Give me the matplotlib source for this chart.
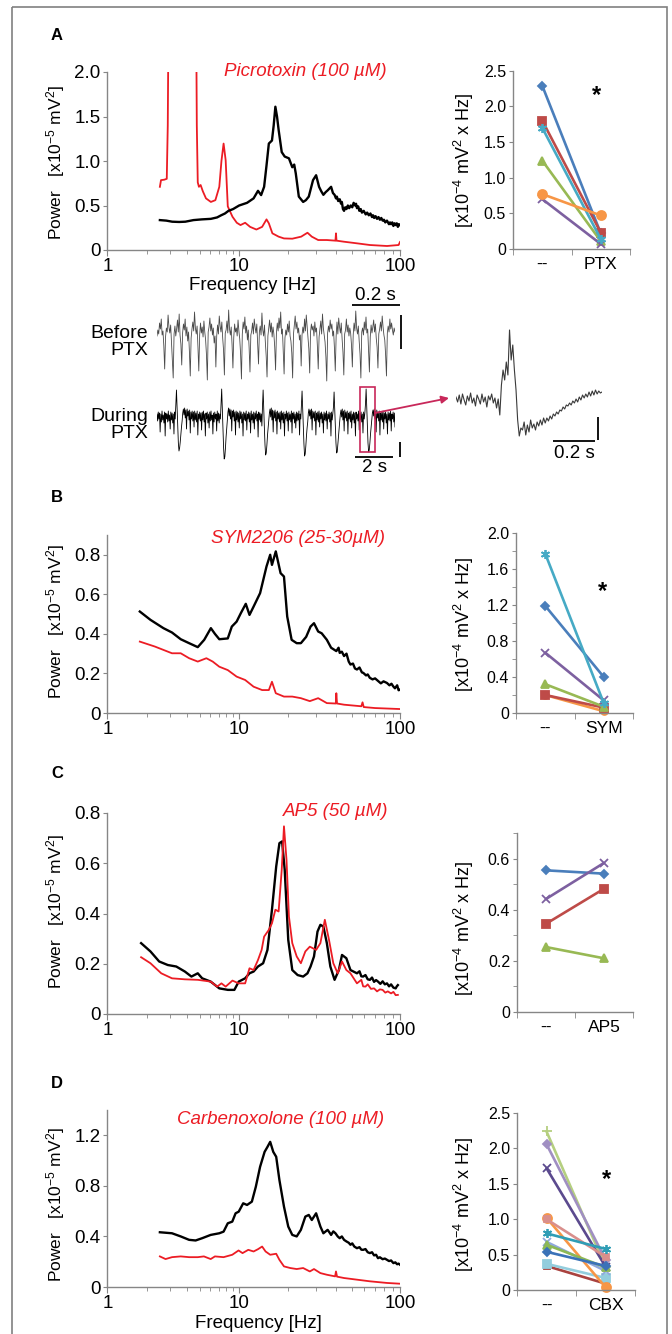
import numpy as np
import matplotlib
matplotlib.use("Agg")
import matplotlib.pyplot as plt
from matplotlib.ticker import FixedLocator, FixedFormatter, NullFormatter
from matplotlib.patches import Rectangle

plt.rcParams['font.family'] = ['Liberation Sans', 'DejaVu Sans']
plt.rcParams['mathtext.fontset'] = 'custom'
plt.rcParams['mathtext.rm'] = 'Liberation Sans'
plt.rcParams['mathtext.it'] = 'Liberation Sans:italic'
plt.rcParams['mathtext.bf'] = 'Liberation Sans:bold'

# ---------------- DATA ----------------
# Panel A spectra (frequency Hz, power x1e-5 mV^2)
fA_ctrl = [2.5, 2.8, 3.1, 3.5, 3.9, 4.5, 5.2, 6.1, 6.8, 7.3, 7.8, 8.3, 9.0, 10.0, 11.2,
           12.3, 13.1, 13.7, 14.3, 14.8, 15.3, 16.0, 16.4, 16.8, 17.2, 17.6, 18.4, 19.2, 20.4, 21.4,
           22.0, 22.5, 23.5, 25.0, 26.0, 27.1, 28.8, 30.1, 31.4, 32.4, 33.4, 34.5, 35.5, 37.3, 38.3,
           39.2, 40.0, 40.5, 41.3, 42.2, 43.0, 43.5, 44.2, 44.9, 45.7, 46.5, 47.4, 48.3, 49.4, 50.5,
           51.5, 52.6, 53.3, 54.0, 55.0, 55.9, 57.0, 58.0, 59.5, 61.2, 62.5, 64.0, 65.5, 67.0, 68.0,
           69.1, 70.5, 72.0, 73.5, 75.0, 76.5, 78.0, 79.5, 81.0, 83.0, 85.4, 86.7, 88.0, 89.5, 91.0,
           92.5, 94.0, 95.5, 97.0, 98.5, 100.0]
pA_ctrl = [0.336, 0.33, 0.318, 0.315, 0.318, 0.336, 0.344, 0.35, 0.366, 0.39, 0.41, 0.44, 0.46, 0.50, 0.53,
           0.58, 0.665, 0.617, 0.71, 0.95, 1.196, 1.23, 1.40, 1.61, 1.50, 1.35, 1.10, 1.05, 1.03, 0.93,
           0.96, 0.86, 0.60, 0.54, 0.56, 0.60, 0.785, 0.84, 0.71, 0.66, 0.62, 0.65, 0.67, 0.71, 0.64,
           0.62, 0.58, 0.60, 0.55, 0.57, 0.52, 0.54, 0.46, 0.44, 0.48, 0.46, 0.50, 0.47, 0.50, 0.48,
           0.53, 0.50, 0.52, 0.47, 0.49, 0.44, 0.46, 0.42, 0.44, 0.40, 0.42, 0.39, 0.41, 0.37, 0.39,
           0.36, 0.38, 0.35, 0.37, 0.34, 0.36, 0.33, 0.34, 0.31, 0.33, 0.29, 0.31, 0.29, 0.31, 0.27,
           0.30, 0.28, 0.30, 0.26, 0.29, 0.28]
fA_drug = [2.5, 2.55, 2.7, 2.82, 2.87, 2.92, 4.7, 4.77, 4.85, 4.95, 5.1, 5.3, 5.6, 6.1, 6.6,
           7.07, 7.34, 7.62, 7.9, 8.2, 8.9, 9.6, 10.2, 10.9, 11.7, 12.8, 13.9, 14.8, 15.3, 16.1,
           17.6, 19.0, 21.4, 24.3, 26.6, 28.3, 31.0, 35.1, 39.7, 40.0, 40.3, 44.9, 54.0, 65.0, 83.0,
           98.0, 100.0]
pA_drug = [0.71, 0.785, 0.79, 0.80, 1.40, 3.0, 3.0, 1.40, 0.76, 0.71, 0.73, 0.66, 0.58, 0.54, 0.56,
           0.71, 1.0, 1.196, 1.01, 0.49, 0.374, 0.306, 0.28, 0.306, 0.26, 0.23, 0.26, 0.344, 0.30, 0.187,
           0.15, 0.13, 0.127, 0.15, 0.194, 0.15, 0.112, 0.112, 0.105, 0.187, 0.105, 0.093, 0.075, 0.056, 0.045,
           0.056, 0.09]

# Panel B spectra
fB_ctrl = [1.76, 2.12, 2.66, 3.09, 3.6, 4.17, 4.85, 5.43, 6.1, 6.55, 7.07, 8.2, 8.8, 9.57, 10.25,
           11.0, 11.6, 12.3, 13.5, 14.8, 15.6, 16.0, 16.9, 18.1, 19.0, 19.9, 21.2, 22.8, 24.2, 26.1,
           27.8, 29.2, 31.0, 32.6, 35.1, 37.3, 40.2, 41.5, 42.2, 43.5, 44.9, 46.5, 48.0, 49.2, 51.0,
           52.5, 54.0, 56.0, 58.0, 59.1, 61.5, 63.0, 64.9, 67.5, 70.0, 73.3, 76.0, 79.0, 82.9, 86.0,
           88.5, 90.7, 93.0, 96.0, 98.0, 100.0]
pB_ctrl = [0.513, 0.471, 0.429, 0.407, 0.373, 0.353, 0.333, 0.37, 0.429, 0.40, 0.373, 0.377, 0.437, 0.462, 0.505,
           0.552, 0.496, 0.538, 0.606, 0.741, 0.80, 0.749, 0.817, 0.707, 0.69, 0.488, 0.37, 0.353, 0.353, 0.385,
           0.437, 0.454, 0.412, 0.403, 0.37, 0.33, 0.313, 0.33, 0.304, 0.31, 0.288, 0.30, 0.26, 0.245, 0.25,
           0.225, 0.22, 0.23, 0.205, 0.203, 0.19, 0.195, 0.178, 0.17, 0.175, 0.161, 0.15, 0.16, 0.152, 0.14,
           0.148, 0.135, 0.125, 0.14, 0.115, 0.118]
fB_drug = [1.76, 2.29, 3.09, 3.6, 4.17, 4.85, 5.64, 6.3, 7.07, 8.2, 9.57, 10.9, 12.3, 13.9, 15.3,
           16.0, 16.9, 19.0, 21.4, 24.2, 27.5, 31.0, 35.1, 39.9, 40.2, 40.6, 44.9, 57.5, 58.5, 59.5,
           70.0, 100.0]
pB_drug = [0.361, 0.336, 0.302, 0.302, 0.277, 0.26, 0.277, 0.26, 0.234, 0.217, 0.184, 0.167, 0.133, 0.116, 0.116,
           0.158, 0.10, 0.083, 0.083, 0.075, 0.06, 0.075, 0.05, 0.048, 0.10, 0.048, 0.042, 0.034, 0.054, 0.03,
           0.025, 0.02]

# Panel C spectra
fC_ctrl = [1.8, 2.12, 2.47, 2.87, 3.33, 3.87, 4.34, 4.85, 5.24, 6.08, 7.07, 8.22, 9.2, 9.93, 10.9,
           11.6, 12.3, 13.1, 14.1, 15.0, 16.0, 17.0, 17.8, 18.5, 19.2, 20.2, 21.4, 23.1, 25.0, 26.6,
           27.8, 29.2, 30.7, 32.0, 33.4, 35.1, 36.9, 39.2, 41.7, 43.6, 46.4, 49.2, 54.0, 56.0, 57.5,
           59.0, 61.0, 63.0, 65.0, 67.0, 69.0, 71.0, 73.0, 75.5, 78.0, 80.5, 83.0, 85.5, 88.0, 91.0,
           94.0, 95.5, 97.0]
pC_ctrl = [0.282, 0.249, 0.209, 0.195, 0.189, 0.169, 0.149, 0.162, 0.142, 0.129, 0.102, 0.096, 0.096, 0.129, 0.142,
           0.162, 0.169, 0.189, 0.202, 0.255, 0.415, 0.587, 0.68, 0.687, 0.574, 0.295, 0.175, 0.155, 0.149, 0.162,
           0.189, 0.229, 0.328, 0.355, 0.348, 0.282, 0.189, 0.136, 0.175, 0.235, 0.222, 0.175, 0.162, 0.17, 0.15,
           0.149, 0.155, 0.138, 0.136, 0.145, 0.128, 0.135, 0.129, 0.12, 0.13, 0.118, 0.122, 0.11, 0.118, 0.105,
           0.102, 0.11, 0.115]
fC_drug = [1.8, 2.12, 2.56, 3.09, 3.87, 4.85, 6.08, 6.8, 7.34, 7.9, 8.9, 9.9, 10.9, 11.6, 12.3,
           13.1, 13.8, 14.3, 15.3, 16.0, 16.8, 17.6, 18.4, 19.0, 19.7, 20.4, 21.4, 22.8, 24.2, 25.8,
           27.5, 30.1, 32.0, 34.1, 36.2, 38.5, 41.0, 43.6, 46.4, 49.2, 54.0, 57.5, 59.0, 61.0, 63.0,
           66.0, 69.0, 72.0, 75.0, 78.0, 81.0, 84.0, 88.0, 91.0, 94.0, 97.0]
pC_drug = [0.226, 0.202, 0.162, 0.142, 0.138, 0.136, 0.129, 0.109, 0.122, 0.109, 0.133, 0.122, 0.122, 0.182, 0.175,
           0.215, 0.255, 0.308, 0.335, 0.361, 0.415, 0.408, 0.574, 0.747, 0.614, 0.388, 0.282, 0.229, 0.202, 0.249,
           0.268, 0.255, 0.282, 0.375, 0.295, 0.202, 0.162, 0.209, 0.175, 0.162, 0.122, 0.136, 0.11, 0.109, 0.118,
           0.10, 0.102, 0.09, 0.098, 0.096, 0.085, 0.09, 0.082, 0.088, 0.075, 0.076]

# Panel D spectra
fD_ctrl = [2.5, 3.09, 3.6, 4.17, 4.67, 5.24, 6.08, 7.07, 7.62, 8.2, 8.87, 9.4, 9.93, 10.6, 11.2,
           12.0, 12.7, 13.5, 14.4, 15.0, 15.6, 16.3, 17.0, 17.8, 19.0, 20.2, 21.4, 22.8, 24.2, 25.8,
           27.1, 28.3, 30.1, 32.0, 33.4, 35.5, 36.5, 37.3, 38.5, 39.7, 41.0, 42.2, 43.5, 44.9, 46.5,
           48.0, 49.2, 50.5, 52.0, 54.0, 56.0, 57.5, 59.0, 61.0, 63.0, 65.0, 67.0, 69.0, 71.0, 73.0,
           75.0, 78.0, 80.5, 83.0, 85.5, 88.0, 91.0, 93.5, 96.0, 98.0, 100.0]
pD_ctrl = [0.433, 0.425, 0.40, 0.373, 0.368, 0.386, 0.412, 0.425, 0.438, 0.504, 0.517, 0.583, 0.596, 0.662, 0.649,
           0.675, 0.793, 0.951, 1.069, 1.108, 1.148, 1.069, 1.03, 0.846, 0.636, 0.478, 0.412, 0.40, 0.452, 0.557,
           0.57, 0.53, 0.583, 0.478, 0.425, 0.452, 0.43, 0.412, 0.44, 0.425, 0.40, 0.386, 0.40, 0.373, 0.36,
           0.35, 0.334, 0.345, 0.32, 0.307, 0.315, 0.295, 0.294, 0.30, 0.275, 0.268, 0.275, 0.25, 0.255, 0.228,
           0.235, 0.22, 0.225, 0.215, 0.205, 0.21, 0.189, 0.195, 0.18, 0.185, 0.176]
fD_drug = [2.5, 2.76, 3.09, 3.6, 4.17, 4.85, 5.4, 6.08, 6.55, 7.62, 8.87, 9.9, 10.5, 11.4, 12.3,
           13.1, 13.9, 14.6, 15.6, 17.0, 17.8, 19.0, 20.8, 22.8, 25.0, 27.5, 29.2, 32.0, 35.1, 39.5,
           40.0, 40.6, 44.9, 54.0, 65.0, 83.0, 100.0]
pD_drug = [0.242, 0.221, 0.236, 0.242, 0.236, 0.236, 0.242, 0.221, 0.242, 0.236, 0.255, 0.289, 0.268, 0.294, 0.281,
           0.299, 0.32, 0.281, 0.255, 0.263, 0.215, 0.163, 0.15, 0.142, 0.15, 0.123, 0.142, 0.11, 0.097, 0.084,
           0.123, 0.082, 0.071, 0.058, 0.045, 0.032, 0.026]

# Field potential traces (arbitrary units)
trace_before = [
    0.2, 0.8, 0.4, 1.5, 0.9, 1.9, 0.3, 0.7, -0.8, -3.1,
    0.1, 1.0, 0.6, 2.3, 1.1, 0.5, 1.3, -0.4, -1.9, -4.0,
    0.4, 1.2, 0.2, 0.9, 1.8, 0.6, 2.4, 0.3, -0.6, -2.7,
    0.5, 1.4, 0.8, 1.9, 0.2, 1.1, -0.3, 0.6, -1.4, -3.8,
    0.0, 0.9, 1.6, 0.7, 2.6, 1.0, 0.4, 1.2, -0.9, -3.3,
    0.3, 1.5, 0.5, 1.1, 0.1, 1.7, 0.6, -0.2, -1.7, -4.2,
    0.6, 1.1, 2.0, 0.7, 1.4, 0.3, 1.0, -0.5, 0.2, -2.9,
    0.2, 1.3, 0.4, 2.2, 1.2, 0.6, 1.6, 0.0, -1.2, -3.7,
    0.5, 0.8, 1.7, 0.5, 2.8, 0.9, 0.3, 1.1, -0.7, -3.0,
    0.1, 1.4, 0.6, 1.0, 0.2, 1.8, 0.7, -0.1, -1.6, -4.1,
    0.4, 1.6, 0.9, 2.1, 0.5, 1.2, -0.2, 0.8, -1.0, -3.4,
    0.3, 0.7, 1.5, 0.4, 1.9, 1.1, 0.5, 1.4, -0.6, -2.6,
    0.6, 1.2, 0.3, 2.5, 0.8, 0.2, 1.3, -0.4, -1.8, -3.9,
    0.2, 1.0, 1.8, 0.6, 1.5, 0.1, 1.1, 0.4, -0.9, -3.2,
    0.5, 1.5, 0.7, 2.0, 1.0, 2.6, 0.4, 0.9, -1.3, -3.6,
    0.0, 0.8, 0.3, 1.4, 0.6, 1.7, 0.2, -0.3, -1.5, -4.0,
    0.4, 1.3, 2.2, 0.9, 1.6, 0.5, 1.0, -0.2, 0.3, -2.8,
    0.3, 1.1, 0.5, 1.9, 0.7, 2.3, 1.2, 0.1, -1.1, -3.5,
    0.6, 1.4, 0.8, 1.2, 0.2, 1.6, 0.6, 1.0, -0.8, -3.1,
    0.1, 0.9, 1.7, 0.4, 2.4, 1.0, 0.3, -0.4, -1.9, -4.3,
    0.5, 1.2, 0.6, 1.8, 0.9, 1.4, 0.2, 0.7, -1.0, -3.3,
    0.2, 1.6, 0.4, 2.0, 1.1, 0.5, 1.5, -0.1, -1.4, -3.7,
    0.4, 0.8, 1.9, 0.6, 1.3, 0.2, 1.0, 0.5, -0.7, -2.9,
    0.3, 1.5, 0.7, 2.7, 1.0, 0.4, 1.2, -0.3, -1.6, -4.0,
    0.6, 1.0, 0.3, 1.6, 0.8, 2.1, 0.5, 0.9, -1.2, -3.4,
    0.1, 1.3, 0.5, 1.1, 1.8, 0.6, 1.4, 0.0, -0.9, -3.0,
    0.4, 0.9, 1.6, 0.7, 2.2, 1.1, 0.3, -0.2, -1.7, -3.8,
    0.5, 1.2, 0.6, 1.9, 0.9, 1.5, 0.8, 0.3, 1.0, 0.6]
trace_during = [
    0.3, -0.4, 0.5, -0.2, 0.4, -1.5, 0.3, -0.5, 0.6, -0.3,
    0.2, -0.6, 0.5, -1.9, 0.4, -0.2, 0.3, -0.5, 0.6, -0.4,
    0.2, -1.2, 0.5, -0.3, 0.4, -0.6, 0.3, -1.7, 0.5, -0.2,
    1.2, 2.7, 0.9, -1.0, -2.6, -3.4, -3.1, -2.5, -1.7, -1.0, -0.4, 0.4,
    0.8, 0.2, 0.9, -0.1, 0.7, -1.2, 0.8, 0.1, 0.6, -0.3, 0.7, -1.6, 0.5, -0.2, 0.6, -0.4, 0.5, -1.0, 0.6, -0.3,
    0.4, -0.5, 0.6, -1.8, 0.3, -0.2, 0.5, -0.4, 0.4, -1.3, 0.5, -0.3, 0.6, -0.5, 0.3, -1.9, 0.4, -0.2, 0.5, -0.6,
    0.3, -1.1, 0.5, -0.4, 0.6, -0.3, 0.2, -1.7, 0.4, -0.5, 0.5, -0.2, 0.3, -1.4, 0.6, -0.4, 0.4, -0.6, 0.3, -0.2,
    1.3, 2.8, 0.8, -1.2, -3.0, -4.2, -4.0, -3.1, -2.0, -1.2, -0.5, 0.5,
    0.9, 0.1, 0.8, -0.2, 0.7, -1.4, 0.6, 0.0, 0.7, -0.4, 0.5, -1.8, 0.6, -0.3, 0.5, -0.5, 0.4, -1.1,
    0.6, -0.2, 0.5, -0.6, 0.3, -1.9, 0.5, -0.3, 0.4, -0.4, 0.6, -1.3, 0.3, -0.2, 0.5, -0.5, 0.4, -1.6,
    0.6, -0.3, 0.3, -0.6, 0.5, -1.2, 0.4, -0.2, 0.6, -0.4, 0.3, -2.0, 0.5, -0.3, 0.4, -0.5, 0.3, -0.9,
    1.1, 2.7, 0.7, -1.1, -2.8, -3.8, -3.6, -2.8, -1.8, -1.1, -0.4, 0.4,
    0.8, 0.0, 0.9, -0.3, 0.7, -1.5, 0.6, -0.1, 0.7, -0.4, 0.5, -1.7, 0.6, -0.2, 0.4, -0.5, 0.5, -1.2,
    0.6, -0.3, 0.4, -0.6, 0.5, -1.9, 0.3, -0.2, 0.6, -0.4, 0.4, -1.4, 0.5, -0.3, 0.3, -0.5, 0.6, -1.6,
    0.4, -0.2, 0.5, -0.6, 0.3, -1.1, 0.5, -0.4, 0.4, -0.3, 0.6, -1.8, 0.3, -0.2,
    1.2, 2.6, 0.8, -1.0, -2.7, -3.9, -3.7, -2.9, -1.9, -1.1, -0.5, 0.4,
    0.8, 0.1, 0.7, -0.2, 0.8, -1.3, 0.6, -0.1, 0.5, -0.4, 0.6, -1.8, 0.4, -0.3, 0.5, -0.5, 0.6, -1.0,
    0.4, -0.2, 0.5, -0.6, 0.3, -1.6, 0.5, -0.3, 0.4, -0.4, 0.6, -1.2, 0.3, -0.2, 0.5, -0.5, 0.4, -1.9, 0.5, -0.3, 0.4,
    1.0, 2.5, 0.7, -1.0, -2.6, -3.6, -3.5, -2.7, -1.8, -1.0, -0.4, 0.3,
    0.7, 0.0, 0.8, -0.3, 0.6, -1.4, 0.7, -0.1, 0.5, -0.4, 0.6, -1.7, 0.4, -0.2, 0.5, -0.5, 0.6, -1.1,
    0.3, -0.3, 0.5, -0.6, 0.4, -1.9, 0.5, -0.2, 0.3, -0.4, 0.6, -1.3, 0.4, -0.3, 0.5, -0.5, 0.3, -1.6, 0.5, -0.2, 0.4,
    1.3, 2.8, 0.9, -0.9, -2.6, -3.5, -3.3, -2.6, -1.7, -1.0, -0.4, 0.4,
    0.7, 0.1, 0.8, -0.2, 0.6, -1.5, 0.7, -0.1, 0.5, -0.4, 0.6, -1.8, 0.4, -0.3, 0.5, -0.5, 0.6, -1.2,
    0.4, -0.2, 0.5, -0.6, 0.3, -1.7, 0.5, -0.3, 0.4, -0.4, 0.6, -1.4, 0.3, -0.2, 0.5, -0.5, 0.4, -1.0]
trace_zoom = [
    0.3, -0.2, 0.5, -0.4, 0.6, 0.0, -0.5, 0.4, -0.1, 0.7, -0.3, 0.2, -0.6, 0.5, 0.1,
    -0.4, 0.6, -0.2, 0.3, -0.7, 0.4, 0.0, 0.6, -0.3, 0.2, -0.8, 0.1,
    -1.5, 1.5, 3.0, 2.0, 3.8, 2.5, 7.0, 4.0, 5.5, 3.0, 1.0, -2.0, -3.6, -2.8,
    -3.0, -2.2, -3.5, -2.5, -3.2, -2.0, -2.8, -2.4, -3.0, -2.2, -2.6, -2.0, -2.5, -1.8, -2.3,
    -1.8, -2.1, -1.6, -1.9, -1.4, -1.6, -1.2, -1.4, -1.0, -1.1, -0.7, -0.9, -0.5, -0.6, -0.3,
    -0.5, -0.1, -0.3, 0.1, -0.2, 0.3, 0.0, 0.5, 0.2, 0.6, 0.3, 0.8, 0.4, 0.9, 0.5,
    1.0, 0.6, 0.9, 0.7, 0.8]

# Paired data (x1e-4 mV^2 x Hz)
conds = ['--', 'PTX', 'SYM', 'AP5', 'CBX']
ptx_before = [2.29, 1.80, 1.24, 0.70, 1.70, 0.77]
ptx_after = [0.22, 0.23, 0.11, 0.07, 0.14, 0.47]
sym_before = [0.20, 1.19, 0.20, 0.32, 0.67, 1.77]
sym_after = [0.02, 0.40, 0.06, 0.07, 0.14, 0.11]
ap5_before = [0.554, 0.345, 0.254, 0.442]
ap5_after = [0.541, 0.482, 0.210, 0.583]
cbx_before = [0.34, 0.37, 2.24, 2.06, 1.72, 1.02, 1.00, 0.80, 0.68, 0.64, 0.54]
cbx_after = [0.09, 0.17, 0.33, 0.43, 0.33, 0.04, 0.47, 0.58, 0.27, 0.32, 0.34]

# ---------------- STYLE / LAYOUT ----------------
W, H = 672, 1334
fig = plt.figure(figsize=(W / 100, H / 100), dpi=100, facecolor='white')
GRAY = '#868686'
RED = '#ec1c24'
BLUE, RRED, GREEN, PURPLE, CYAN, ORANGE = '#4a7ebb', '#be4b48', '#98b954', '#7d60a0', '#46aac5', '#f79646'
AST = (6, 2, 0)


def add_ax(l, t, r, b, **kw):
    return fig.add_axes([l / W, 1 - b / H, (r - l) / W, (b - t) / H], **kw)


def ftext(x, y, s, **kw):
    kw.setdefault('ha', 'center')
    kw.setdefault('va', 'center')
    fig.text(x / W, 1 - y / H, s, **kw)


def fwd(f):
    lf = np.log10(np.clip(np.asarray(f, float), 1e-6, None))
    return np.where(lf <= 1, lf * 306.0, 306.0 + (lf - 1) * 374.0)


def inv(u):
    u = np.asarray(u, float)
    return np.where(u <= 306, 10 ** (u / 306.0), 10 ** (1 + (u - 306.0) / 374.0))


def style_spines(ax):
    for s in ['top', 'right']:
        ax.spines[s].set_visible(False)
    for s in ['left', 'bottom']:
        ax.spines[s].set_color(GRAY)
        ax.spines[s].set_linewidth(1.0)
    ax.patch.set_alpha(0)


def spec_axes(l, t, r, b, ymax, yticks, ylabels):
    ax = add_ax(l, t, r, b)
    ax.set_xscale('function', functions=(fwd, inv))
    ax.set_xlim(1, 100)
    ax.set_ylim(0, ymax)
    style_spines(ax)
    ax.xaxis.set_major_locator(FixedLocator([1, 10, 100]))
    ax.xaxis.set_major_formatter(FixedFormatter(['1', '10', '100']))
    ax.xaxis.set_minor_locator(FixedLocator([2, 3, 4, 5, 6, 7, 8, 9, 20, 30, 40, 50, 60, 70, 80, 90]))
    ax.xaxis.set_minor_formatter(NullFormatter())
    ax.set_yticks(yticks, ylabels)
    ax.tick_params(axis='both', which='both', color=GRAY, labelcolor='black', labelsize=13.5, direction='out')
    ax.tick_params(axis='x', which='major', length=4, pad=2)
    ax.tick_params(axis='x', which='minor', length=3)
    ax.tick_params(axis='y', length=3, pad=2)
    return ax


def pair_axes(l, t, r, b, ymax, major, labels, minor, cond):
    ax = add_ax(l, t, r, b)
    ax.set_xlim(0, 2)
    ax.set_ylim(0, ymax)
    style_spines(ax)
    ax.set_xticks([0.5, 1.5], [conds[0], cond])
    ax.set_xticks([0, 1, 2], minor=True)
    ax.set_yticks(major, labels)
    if minor:
        ax.set_yticks(minor, minor=True)
    ax.tick_params(axis='x', which='major', length=0, pad=6, labelsize=12.5)
    ax.tick_params(axis='x', which='minor', length=4, color=GRAY)
    ax.tick_params(axis='y', which='both', length=3, color=GRAY, pad=2, labelsize=11.5)
    return ax


def pairs(ax, before, after, colors, markers, sizes):
    for b0, a0, c, m, s in zip(before, after, colors, markers, sizes):
        ax.plot([0.5, 1.5], [b0, a0], color=c, lw=1.9, marker=m, ms=s, mfc=c, mec=c, mew=1.3,
                clip_on=False, solid_capstyle='round')


def trace(l, t, r, b, values, ylo, yhi, color, lw):
    ax = add_ax(l, t, r, b)
    ax.plot(np.arange(len(values)), values, color=color, lw=lw)
    ax.set_xlim(0, len(values) - 1)
    ax.set_ylim(ylo, yhi)
    ax.axis('off')
    return ax


LEFT_LABEL = 'Power   [x10$^{-5}$ mV$^{2}$]'
RIGHT_LABEL = '[x10$^{-4}$ mV$^{2}$ x Hz]'

# ---------- Panel A ----------
ftext(57, 35, 'A', fontsize=12, fontweight='bold')
axA = spec_axes(107.5, 72, 400, 250, 2.0, [0, 0.5, 1.0, 1.5, 2.0], ['0', '0.5', '1.0', '1.5', '2.0'])
axA.plot(fA_drug, pA_drug, color=RED, lw=1.3)
axA.plot(fA_ctrl, pA_ctrl, color='black', lw=1.7)
ftext(305, 72, 'Picrotoxin (100 µM)', color=RED, fontsize=13.5, style='italic')
ftext(56, 163, LEFT_LABEL, rotation=90, fontsize=12.5)
ftext(252, 285, 'Frequency [Hz]', fontsize=13.5)

axAr = pair_axes(513, 70.7, 630, 249, 2.5, [0, 0.5, 1.0, 1.5, 2.0, 2.5],
                 ['0', '0.5', '1.0', '1.5', '2.0', '2.5'], None, conds[1])
pairs(axAr, ptx_before, ptx_after,
      [BLUE, RRED, GREEN, PURPLE, CYAN, ORANGE], ['D', 's', '^', 'x', AST, 'o'], [4.5, 5.5, 5.5, 6, 6.5, 6.5])
ftext(464, 160, RIGHT_LABEL, rotation=90, fontsize=13)
ftext(597, 96, '*', fontsize=17, fontweight='bold')

# traces
trace(157, 308, 395, 384, trace_before, -4.6, 3.0, '#4a4a4a', 0.6)
trace(157, 385, 395, 463, trace_during, -4.6, 3.2, 'black', 0.6)
trace(456, 320, 602, 445, trace_zoom, -4.5, 8.0, '#3a3a3a', 0.8)
ftext(148, 342, 'Before\nPTX', ha='right', fontsize=14, linespacing=1.05)
ftext(148, 425, 'During\nPTX', ha='right', fontsize=14, linespacing=1.05)

# ---------- Panel B ----------
ftext(57, 497, 'B', fontsize=12, fontweight='bold')
axB = spec_axes(107.5, 535, 400, 713, 0.9, [0, 0.2, 0.4, 0.6, 0.8], ['0', '0.2', '0.4', '0.6', '0.8'])
axB.plot(fB_drug, pB_drug, color=RED, lw=1.3)
axB.plot(fB_ctrl, pB_ctrl, color='black', lw=1.7)
ftext(298, 538, 'SYM2206 (25-30µM)', color=RED, fontsize=13.5, style='italic')
ftext(56, 622, LEFT_LABEL, rotation=90, fontsize=12.5)
axBr = pair_axes(516, 533, 633, 713, 2.0, [0, 0.4, 0.8, 1.2, 1.6, 2.0],
                 ['0', '0.4', '0.8', '1.2', '1.6', '2.0'], [0.2, 0.6, 1.0, 1.4, 1.8], conds[2])
pairs(axBr, sym_before, sym_after,
      [ORANGE, BLUE, RRED, GREEN, PURPLE, CYAN], ['o', 'D', 's', '^', 'x', AST], [5, 4.5, 5.5, 5.5, 6, 6.5])
ftext(464, 624, RIGHT_LABEL, rotation=90, fontsize=13)
ftext(602, 592, '*', fontsize=17, fontweight='bold')

# ---------- Panel C ----------
ftext(57, 773, 'C', fontsize=12, fontweight='bold')
axC = spec_axes(107.5, 813, 400, 1014, 0.8, [0, 0.2, 0.4, 0.6, 0.8], ['0', '0.2', '0.4', '0.6', '0.8'])
axC.plot(fC_ctrl, pC_ctrl, color='black', lw=1.7)
axC.plot(fC_drug, pC_drug, color=RED, lw=1.3)
ftext(336, 812, 'AP5 (50 µM)', color=RED, fontsize=13.5, style='italic')
ftext(56, 912, LEFT_LABEL, rotation=90, fontsize=12.5)
axCr = pair_axes(517, 833, 633, 1012, 0.7, [0, 0.2, 0.4, 0.6], ['0', '0.2', '0.4', '0.6'],
                 [0.1, 0.3, 0.5, 0.7], conds[3])
pairs(axCr, ap5_before, ap5_after, [BLUE, RRED, GREEN, PURPLE], ['D', 's', '^', 'x'], [4.5, 5.5, 5.5, 6])
ftext(464, 928, RIGHT_LABEL, rotation=90, fontsize=13)

# ---------- Panel D ----------
ftext(57, 1083, 'D', fontsize=12, fontweight='bold')
axD = spec_axes(107.5, 1110, 400, 1287, 1.4, [0, 0.4, 0.8, 1.2], ['0', '0.4', '0.8', '1.2'])
axD.plot(fD_drug, pD_drug, color=RED, lw=1.3)
axD.plot(fD_ctrl, pD_ctrl, color='black', lw=1.7)
ftext(281, 1120, 'Carbenoxolone (100 µM)', color=RED, fontsize=13.5, style='italic')
ftext(56, 1205, LEFT_LABEL, rotation=90, fontsize=12.5)
ftext(258, 1323, 'Frequency [Hz]', fontsize=13.5)
axDr = pair_axes(517, 1113, 635, 1290, 2.5, [0, 0.5, 1.0, 1.5, 2.0, 2.5],
                 ['0', '0.5', '1.0', '1.5', '2.0', '2.5'], None, conds[4])
pairs(axDr, cbx_before, cbx_after,
      ['#a9423f', '#93cddd', '#b5cf80', '#a08fc2', '#5b4a8e', ORANGE, '#d98f8c', '#2f9db5', '#8fa8dc', '#8cb856', '#3a72b8'],
      ['s', 's', '+', 'D', 'x', 'o', 's', AST, 'x', '^', 'D'],
      [5, 5.5, 7, 4.5, 6, 6.5, 4.5, 6.5, 6, 5.5, 4.5])
ftext(464, 1204, RIGHT_LABEL, rotation=90, fontsize=13)
ftext(606, 1180, '*', fontsize=17, fontweight='bold')

# ---------- overlay: frame, scale bars, zoom box ----------
ov = fig.add_axes([0, 0, 1, 1], zorder=10)
ov.set_xlim(0, W)
ov.set_ylim(H, 0)
ov.axis('off')
ov.patch.set_alpha(0)
ov.add_patch(Rectangle((12, 7), 655, 1340, fill=False, ec='#808080', lw=1.2, clip_on=False))
bar = dict(color='black', lw=1.3, solid_capstyle='butt')
ov.plot([352, 400], [305, 305], **bar)
ov.text(375, 296, '0.2 s', ha='center', va='center', fontsize=13.5)
ov.plot([401, 401], [315, 349], **bar)
ov.plot([400, 400], [442, 457], **bar)
ov.plot([355, 393], [457, 457], **bar)
ov.text(375, 468, '2 s', ha='center', va='center', fontsize=13.5)
ov.plot([598, 598], [417, 440], **bar)
ov.plot([553, 595], [441, 441], **bar)
ov.text(574, 453, '0.2 s', ha='center', va='center', fontsize=13.5)
MAG = '#c8285a'
ov.add_patch(Rectangle((360, 387), 15, 65, fill=False, ec=MAG, lw=1.2))
ov.annotate('', xy=(449, 398), xytext=(375, 413),
            arrowprops=dict(arrowstyle='-|>', color=MAG, lw=1.3, mutation_scale=11, shrinkA=0, shrinkB=0))

fig.savefig('out.png', dpi=100, facecolor='white')
